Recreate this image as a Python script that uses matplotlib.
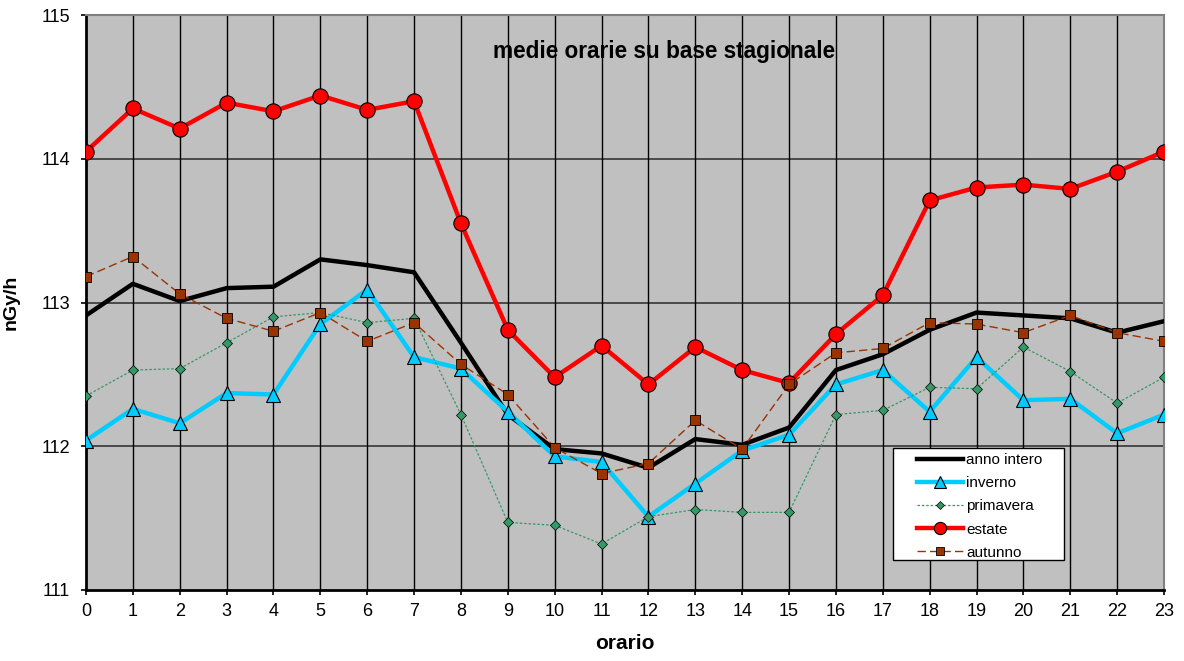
import matplotlib
matplotlib.use("Agg")
import matplotlib.pyplot as plt
from matplotlib.patches import Rectangle

plt.rcParams["font.family"] = ["Liberation Sans", "DejaVu Sans"]

hours = list(range(24))

anno_intero = [112.91, 113.13, 113.01, 113.10, 113.11, 113.30, 113.26, 113.21,
               112.72, 112.22, 111.98, 111.95, 111.85, 112.05, 112.01, 112.13,
               112.53, 112.64, 112.81, 112.93, 112.91, 112.89, 112.79, 112.87]
inverno = [112.04, 112.26, 112.16, 112.37, 112.36, 112.85, 113.09, 112.62,
           112.54, 112.24, 111.93, 111.89, 111.51, 111.74, 111.97, 112.08,
           112.43, 112.53, 112.24, 112.62, 112.32, 112.33, 112.09, 112.22]
primavera = [112.35, 112.53, 112.54, 112.72, 112.90, 112.93, 112.86, 112.89,
             112.22, 111.47, 111.45, 111.32, 111.51, 111.56, 111.54, 111.54,
             112.22, 112.25, 112.41, 112.40, 112.69, 112.52, 112.30, 112.48]
estate = [114.05, 114.35, 114.21, 114.39, 114.33, 114.44, 114.34, 114.40,
          113.55, 112.81, 112.48, 112.70, 112.43, 112.69, 112.53, 112.44,
          112.78, 113.05, 113.71, 113.80, 113.82, 113.79, 113.91, 114.05]
autunno = [113.18, 113.32, 113.06, 112.89, 112.80, 112.93, 112.73, 112.86,
           112.57, 112.36, 111.99, 111.81, 111.88, 112.18, 111.98, 112.43,
           112.65, 112.68, 112.86, 112.85, 112.79, 112.91, 112.79, 112.73]

y_ticks = [111, 112, 113, 114, 115]

fig = plt.figure(figsize=(11.84, 6.61), dpi=100)
ax = fig.add_axes([86 / 1184, 1 - 590 / 661, (1164 - 86) / 1184, (590 - 15) / 661])
ax.set_facecolor("#C0C0C0")

# griglia: orizzontale grigio scuro, verticale nera
for y in y_ticks[1:-1]:
    ax.axhline(y, color="#404040", lw=1.3, zorder=1)
for h in hours[1:-1]:
    ax.axvline(h, color="black", lw=1.0, zorder=1)

ax.plot(hours, anno_intero, color="black", lw=3.2, label="anno intero", zorder=3)
ax.plot(hours, inverno, color="#00CCFF", lw=3.2, marker="^", ms=10,
        mfc="#00CCFF", mec="black", mew=0.8, label="inverno", zorder=3)
ax.plot(hours, primavera, color="#339966", lw=0.9, ls=(0, (2, 1.5)), marker="D", ms=5,
        mfc="#339966", mec="black", mew=0.5, label="primavera", zorder=3)
ax.plot(hours, estate, color="#FF0000", lw=3.2, marker="o", ms=11,
        mfc="#FF0000", mec="black", mew=0.8, label="estate", zorder=3)
ax.plot(hours, autunno, color="#993300", lw=1.0, ls=(0, (6, 3)), marker="s", ms=7,
        mfc="#993300", mec="black", mew=0.6, label="autunno", zorder=4)

ax.set_xlim(0, 23)
ax.set_ylim(111, 115)
ax.set_xticks(hours)
ax.set_yticks(y_ticks)
ax.tick_params(axis="both", labelsize=13, direction="out", length=3.6, width=1.2, color="black")
ax.tick_params(axis="x", pad=6)
ax.tick_params(axis="y", pad=8)

ax.spines["left"].set_color("black")
ax.spines["left"].set_linewidth(2)
ax.spines["bottom"].set_color("black")
ax.spines["bottom"].set_linewidth(2)
ax.spines["top"].set_color("#808080")
ax.spines["top"].set_linewidth(1.5)
ax.spines["right"].set_color("#808080")
ax.spines["right"].set_linewidth(1.5)

ax.text(0.536, 0.937, "medie orarie su base stagionale", transform=ax.transAxes,
        ha="center", va="center", fontsize=16.3, fontweight="bold", zorder=5)

ax.set_xlabel("orario", fontsize=15, fontweight="bold", labelpad=10)
ax.set_ylabel("nGy/h", fontsize=14, fontweight="bold")
ax.yaxis.set_label_coords(-0.0612, 0.5)

# cornice della legenda disegnata a parte per controllare i margini
ax.add_patch(Rectangle((0.749, 0.0522), 0.1586, 0.1948, transform=ax.transAxes,
                       facecolor="white", edgecolor="black", lw=1.0, zorder=6))
leg = ax.legend(loc="upper left", bbox_to_anchor=(0.771, 0.238),
                fontsize=11, handlelength=3.0, handletextpad=0.2, markerscale=0.8,
                labelspacing=0.6, borderpad=0, borderaxespad=0, frameon=False)
leg.set_zorder(7)

fig.savefig("out.png", dpi=100)
